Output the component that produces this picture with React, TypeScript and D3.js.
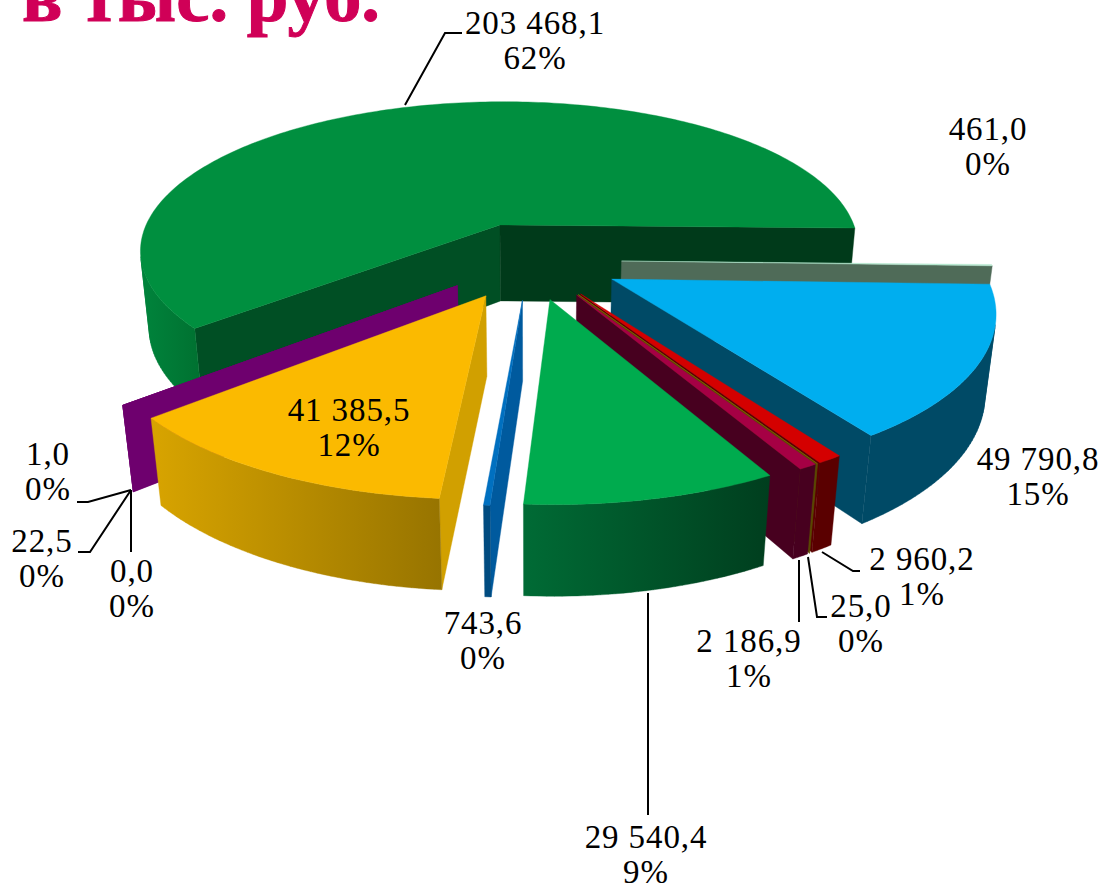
import React from "react";
import * as d3 from "d3";

// ---- data ----
const categories = ["a", "b", "c", "d", "e", "f", "g", "h", "i", "j", "k", "l"];
const values = [203468.1, 461.0, 49790.8, 2960.2, 25.0, 2186.9, 29540.4, 743.6, 41385.5, 0.0, 22.5, 1.0];
const valueLabels = ["203 468,1", "461,0", "49 790,8", "2 960,2", "25,0", "2 186,9", "29 540,4", "743,6", "41 385,5", "0,0", "22,5", "1,0"];
const percentLabels = ["62%", "0%", "15%", "1%", "0%", "1%", "9%", "0%", "12%", "0%", "0%", "0%"];

// ---- styles, per slice ----
const topColors = ["#008F3F", "#B5E8CF", "#00AEEF", "#D40000", "#8A7000", "#A50044", "#00AB4E", "#0070C0", "#FBBA00", "#6E006E", "#6E006E", "#6E006E"];
const startWallColors = ["#004F24", "#4F6B58", "#004A66", "#5A0000", "#5A4A00", "#47001F", "#00602C", "#005A9E", "#D1A000", "#6E006E", "#6E006E", "#6E006E"];
const endWallColors = ["#003A1A", "#4F6B58", "#004A66", "#5A0000", "#5A4A00", "#47001F", "#00602C", "#005A9E", "#D1A000", "#6E006E", "#6E006E", "#6E006E"];
const outerLeft = ["#00843C", "#4F6B58", "#004A66", "#5A0000", "#5A4A00", "#47001F", "#006B35", "#004B80", "#D8A400", "#6E006E", "#6E006E", "#6E006E"];
const outerRight = ["#007030", "#4F6B58", "#004A66", "#5A0000", "#5A4A00", "#47001F", "#003E1E", "#004B80", "#977400", "#6E006E", "#6E006E", "#6E006E"];
const labelLayout: [number, number][] = [[535, 34], [988, 140], [1038, 470], [922, 570], [861, 617], [749, 652], [646, 848], [483, 634], [349, 421], [132, 582], [42, 552], [48, 465]];
const leaders: [number, number][][] = [
  [[405, 105], [445, 33], [462, 33]],
  [[822, 552], [853, 571], [860, 571]],
  [[808, 557], [817, 617], [827, 617]],
  [[799, 560], [799, 622]],
  [[648, 593], [648, 815]],
  [[131, 490], [88, 502], [77, 502]],
  [[131, 490], [90, 552], [78, 552]],
  [[131, 490], [131, 552]],
];

// ---- projection of the pie plane ----
const START_DEG = 229.7;
const EXPLODE = 0.25;
const cx = 529.5, cy = 260, sx = 368, sy = 155, persp = 0.17, zPersp = 0.023, height = 80;
const project = (X: number, Y: number, z: number): [number, number] => {
  const w = 1 - persp * Y + zPersp * z;
  return [cx + (sx * X) / w, cy + (sy * Y + height * z) / w];
};
const rad = (d: number) => (d * Math.PI) / 180;
const ccw = (p: [number, number][]) => d3.polygonArea(p) >= 0;
const poly = (p: [number, number][]) => d3.line()(p) + "Z";

const pie = d3.pie<number>().sort(null).startAngle(rad(START_DEG)).endAngle(rad(START_DEG + 360)).value((d) => d);
const arcs = pie(values);

type Piece = { key: string; d: string; fill: string };
const gradients: { id: string; x1: number; x2: number; c1: string; c2: string }[] = [];

function slicePieces(i: number): Piece[] {
  const a = arcs[i];
  const mid = (a.startAngle + a.endAngle) / 2;
  const ox = EXPLODE * Math.sin(mid), oy = -EXPLODE * Math.cos(mid);
  const at = (t: number, r: number, z: number) => project(ox + r * Math.sin(t), oy - r * Math.cos(t), z);
  const n = Math.max(1, Math.ceil((a.endAngle - a.startAngle) / rad(1)));
  const ts = d3.range(n + 1).map((k) => a.startAngle + ((a.endAngle - a.startAngle) * k) / n);
  const pieces: Piece[] = [];

  const startQuad = [at(a.startAngle, 0, 0), at(a.startAngle, 1, 0), at(a.startAngle, 1, 1), at(a.startAngle, 0, 1)];
  const endQuad = [at(a.endAngle, 0, 0), at(a.endAngle, 1, 0), at(a.endAngle, 1, 1), at(a.endAngle, 0, 1)];
  if (ccw(startQuad) && values[i] > 0) pieces.push({ key: "s", d: poly(startQuad), fill: startWallColors[i] });
  if (!ccw(endQuad) && values[i] > 0) pieces.push({ key: "e", d: poly(endQuad), fill: endWallColors[i] });

  // outer wall: only the segments that face the viewer
  const vis: [number, number][][] = [];
  for (let k = 0; k < n; k++) {
    const q = [at(ts[k], 1, 0), at(ts[k + 1], 1, 0), at(ts[k + 1], 1, 1), at(ts[k], 1, 1)];
    if (ccw(q)) vis.push(q);
  }
  if (vis.length) {
    const xs = vis.flat().map((p) => p[0]);
    const id = `wall${i}`;
    gradients.push({ id, x1: d3.min(xs)!, x2: d3.max(xs)!, c1: outerLeft[i], c2: outerRight[i] });
    pieces.push({ key: "o", d: vis.map((q) => poly(q)).join(""), fill: `url(#${id})` });
  }
  const topPts: [number, number][] = [at(0, 0, 0), ...ts.map((t) => at(t, 1, 0))];
  pieces.push({ key: "t", d: poly(topPts), fill: topColors[i] });
  return pieces;
}

const order = d3.range(values.length).sort((p, q) => {
  const m = (i: number) => -Math.cos((arcs[i].startAngle + arcs[i].endAngle) / 2);
  return m(p) - m(q);
});
const allPieces = order.map((i) => ({ i, pieces: slicePieces(i) }));

const FONT = "'Liberation Serif', serif";

export default function App() {
  return (
    <svg width={1106} height={885} style={{ position: "absolute", left: 0, top: 0, background: "#fff" }}>
      <defs>
        {gradients.map((g) => (
          <linearGradient key={g.id} id={g.id} gradientUnits="userSpaceOnUse" x1={g.x1} x2={g.x2} y1={0} y2={0}>
            <stop offset="0" stopColor={g.c1} />
            <stop offset="1" stopColor={g.c2} />
          </linearGradient>
        ))}
      </defs>
      <text x={22} y={21} fontFamily={FONT} fontWeight="bold" fontSize={74} fill="#D00057" stroke="#D00057" strokeWidth={1} textLength={358} lengthAdjust="spacingAndGlyphs">в тыс. руб.</text>
      {allPieces.map(({ i, pieces }) => (
        <g key={categories[i]}>
          {pieces.map((p) => (
            <path key={p.key} d={p.d} fill={p.fill} stroke={p.fill} strokeWidth={0.4} />
          ))}
        </g>
      ))}
      {leaders.map((l, k) => (
        <path key={k} d={d3.line()(l)!} fill="none" stroke="#000" strokeWidth={2} />
      ))}
      {values.map((_, i) => (
        <g key={i} fontFamily={FONT} fontSize={33} fill="#000" textAnchor="middle" letterSpacing={0.9}>
          <text x={labelLayout[i][0]} y={labelLayout[i][1]}>{valueLabels[i]}</text>
          <text x={labelLayout[i][0]} y={labelLayout[i][1] + 35}>{percentLabels[i]}</text>
        </g>
      ))}
    </svg>
  );
}
